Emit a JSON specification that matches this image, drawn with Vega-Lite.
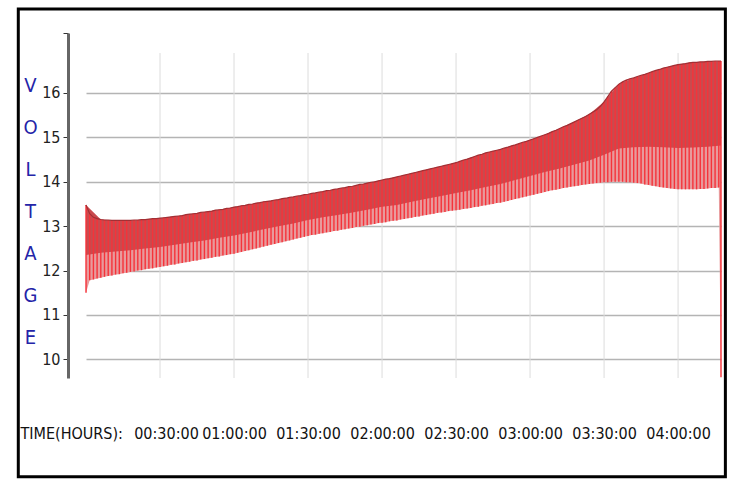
{
  "$schema": "https://vega.github.io/schema/vega-lite/v6.json",
  "width": 635,
  "height": 345,
  "autosize": {"type": "none"},
  "padding": {"left": 86, "top": 33, "right": 13, "bottom": 101},
  "background": "white",
  "config": {"view": {"stroke": null}},
  "datasets": {
    "cycles": [
      {"t":0,"hi":13.48,"lo":11.5},{"t":0.025,"hi":13.28,"lo":11.78},{"t":0.05,"hi":13.2,"lo":11.8},{"t":0.075,"hi":13.17,"lo":11.82},
      {"t":0.1,"hi":13.15,"lo":11.84},{"t":0.125,"hi":13.14,"lo":11.86},{"t":0.15,"hi":13.14,"lo":11.88},{"t":0.175,"hi":13.13,"lo":11.89},
      {"t":0.2,"hi":13.13,"lo":11.91},{"t":0.225,"hi":13.13,"lo":11.92},{"t":0.25,"hi":13.13,"lo":11.94},{"t":0.275,"hi":13.13,"lo":11.95},
      {"t":0.3,"hi":13.13,"lo":11.97},{"t":0.325,"hi":13.14,"lo":11.98},{"t":0.35,"hi":13.14,"lo":12.0},{"t":0.375,"hi":13.15,"lo":12.01},
      {"t":0.4,"hi":13.15,"lo":12.03},{"t":0.425,"hi":13.16,"lo":12.04},{"t":0.45,"hi":13.17,"lo":12.05},{"t":0.475,"hi":13.17,"lo":12.07},
      {"t":0.5,"hi":13.18,"lo":12.08},{"t":0.525,"hi":13.19,"lo":12.1},{"t":0.55,"hi":13.2,"lo":12.11},{"t":0.575,"hi":13.21,"lo":12.13},
      {"t":0.6,"hi":13.22,"lo":12.14},{"t":0.625,"hi":13.23,"lo":12.16},{"t":0.65,"hi":13.24,"lo":12.17},{"t":0.675,"hi":13.26,"lo":12.19},
      {"t":0.7,"hi":13.27,"lo":12.2},{"t":0.725,"hi":13.28,"lo":12.22},{"t":0.75,"hi":13.29,"lo":12.23},{"t":0.775,"hi":13.31,"lo":12.25},
      {"t":0.8,"hi":13.32,"lo":12.26},{"t":0.825,"hi":13.33,"lo":12.28},{"t":0.85,"hi":13.34,"lo":12.29},{"t":0.875,"hi":13.36,"lo":12.31},
      {"t":0.9,"hi":13.37,"lo":12.32},{"t":0.925,"hi":13.38,"lo":12.34},{"t":0.95,"hi":13.4,"lo":12.35},{"t":0.975,"hi":13.41,"lo":12.37},
      {"t":1.0,"hi":13.43,"lo":12.38},{"t":1.025,"hi":13.44,"lo":12.4},{"t":1.05,"hi":13.46,"lo":12.42},{"t":1.075,"hi":13.47,"lo":12.44},
      {"t":1.1,"hi":13.49,"lo":12.46},{"t":1.125,"hi":13.5,"lo":12.48},{"t":1.15,"hi":13.52,"lo":12.5},{"t":1.175,"hi":13.53,"lo":12.52},
      {"t":1.2,"hi":13.55,"lo":12.54},{"t":1.225,"hi":13.56,"lo":12.56},{"t":1.25,"hi":13.57,"lo":12.58},{"t":1.275,"hi":13.59,"lo":12.6},
      {"t":1.3,"hi":13.6,"lo":12.62},{"t":1.325,"hi":13.62,"lo":12.64},{"t":1.35,"hi":13.63,"lo":12.66},{"t":1.375,"hi":13.65,"lo":12.68},
      {"t":1.4,"hi":13.66,"lo":12.7},{"t":1.425,"hi":13.68,"lo":12.72},{"t":1.45,"hi":13.69,"lo":12.74},{"t":1.475,"hi":13.71,"lo":12.76},
      {"t":1.5,"hi":13.72,"lo":12.78},{"t":1.525,"hi":13.74,"lo":12.8},{"t":1.55,"hi":13.75,"lo":12.81},{"t":1.575,"hi":13.77,"lo":12.83},
      {"t":1.6,"hi":13.78,"lo":12.84},{"t":1.625,"hi":13.8,"lo":12.86},{"t":1.65,"hi":13.81,"lo":12.87},{"t":1.675,"hi":13.83,"lo":12.89},
      {"t":1.7,"hi":13.84,"lo":12.9},{"t":1.725,"hi":13.86,"lo":12.92},{"t":1.75,"hi":13.87,"lo":12.93},{"t":1.775,"hi":13.89,"lo":12.95},
      {"t":1.8,"hi":13.9,"lo":12.96},{"t":1.825,"hi":13.92,"lo":12.98},{"t":1.85,"hi":13.94,"lo":12.99},{"t":1.875,"hi":13.95,"lo":13.01},
      {"t":1.9,"hi":13.97,"lo":13.02},{"t":1.925,"hi":13.99,"lo":13.04},{"t":1.95,"hi":14.0,"lo":13.05},{"t":1.975,"hi":14.02,"lo":13.07},
      {"t":2.0,"hi":14.04,"lo":13.08},{"t":2.025,"hi":14.06,"lo":13.09},{"t":2.05,"hi":14.07,"lo":13.11},{"t":2.075,"hi":14.09,"lo":13.12},
      {"t":2.1,"hi":14.11,"lo":13.13},{"t":2.125,"hi":14.13,"lo":13.15},{"t":2.15,"hi":14.15,"lo":13.16},{"t":2.175,"hi":14.17,"lo":13.18},
      {"t":2.2,"hi":14.19,"lo":13.19},{"t":2.225,"hi":14.21,"lo":13.21},{"t":2.25,"hi":14.23,"lo":13.22},{"t":2.275,"hi":14.25,"lo":13.24},
      {"t":2.3,"hi":14.27,"lo":13.25},{"t":2.325,"hi":14.29,"lo":13.27},{"t":2.35,"hi":14.31,"lo":13.28},{"t":2.375,"hi":14.33,"lo":13.3},
      {"t":2.4,"hi":14.35,"lo":13.31},{"t":2.425,"hi":14.37,"lo":13.32},{"t":2.45,"hi":14.39,"lo":13.34},{"t":2.475,"hi":14.41,"lo":13.35},
      {"t":2.5,"hi":14.43,"lo":13.36},{"t":2.525,"hi":14.46,"lo":13.37},{"t":2.55,"hi":14.49,"lo":13.39},{"t":2.575,"hi":14.51,"lo":13.4},
      {"t":2.6,"hi":14.54,"lo":13.41},{"t":2.625,"hi":14.57,"lo":13.43},{"t":2.65,"hi":14.6,"lo":13.44},{"t":2.675,"hi":14.62,"lo":13.46},
      {"t":2.7,"hi":14.65,"lo":13.47},{"t":2.725,"hi":14.67,"lo":13.49},{"t":2.75,"hi":14.69,"lo":13.5},{"t":2.775,"hi":14.71,"lo":13.52},
      {"t":2.8,"hi":14.73,"lo":13.53},{"t":2.825,"hi":14.76,"lo":13.55},{"t":2.85,"hi":14.78,"lo":13.57},{"t":2.875,"hi":14.81,"lo":13.59},
      {"t":2.9,"hi":14.83,"lo":13.61},{"t":2.925,"hi":14.86,"lo":13.63},{"t":2.95,"hi":14.89,"lo":13.65},{"t":2.975,"hi":14.91,"lo":13.67},
      {"t":3.0,"hi":14.94,"lo":13.69},{"t":3.025,"hi":14.97,"lo":13.71},{"t":3.05,"hi":15.0,"lo":13.73},{"t":3.075,"hi":15.03,"lo":13.75},
      {"t":3.1,"hi":15.06,"lo":13.77},{"t":3.125,"hi":15.09,"lo":13.79},{"t":3.15,"hi":15.13,"lo":13.81},{"t":3.175,"hi":15.16,"lo":13.82},
      {"t":3.2,"hi":15.2,"lo":13.84},{"t":3.225,"hi":15.24,"lo":13.86},{"t":3.25,"hi":15.27,"lo":13.87},{"t":3.275,"hi":15.31,"lo":13.89},
      {"t":3.3,"hi":15.35,"lo":13.9},{"t":3.325,"hi":15.39,"lo":13.91},{"t":3.35,"hi":15.43,"lo":13.93},{"t":3.375,"hi":15.47,"lo":13.94},
      {"t":3.4,"hi":15.52,"lo":13.95},{"t":3.425,"hi":15.57,"lo":13.96},{"t":3.45,"hi":15.62,"lo":13.97},{"t":3.475,"hi":15.7,"lo":13.98},
      {"t":3.5,"hi":15.8,"lo":13.99},{"t":3.525,"hi":15.92,"lo":13.99},{"t":3.55,"hi":16.04,"lo":14.0},{"t":3.575,"hi":16.12,"lo":14.0},
      {"t":3.6,"hi":16.2,"lo":14.0},{"t":3.625,"hi":16.25,"lo":14.0},{"t":3.65,"hi":16.29,"lo":13.99},{"t":3.675,"hi":16.32,"lo":13.99},
      {"t":3.7,"hi":16.34,"lo":13.98},{"t":3.725,"hi":16.37,"lo":13.97},{"t":3.75,"hi":16.4,"lo":13.96},{"t":3.775,"hi":16.42,"lo":13.94},
      {"t":3.8,"hi":16.45,"lo":13.93},{"t":3.825,"hi":16.48,"lo":13.91},{"t":3.85,"hi":16.51,"lo":13.9},{"t":3.875,"hi":16.53,"lo":13.88},
      {"t":3.9,"hi":16.56,"lo":13.87},{"t":3.925,"hi":16.58,"lo":13.86},{"t":3.95,"hi":16.6,"lo":13.85},{"t":3.975,"hi":16.62,"lo":13.84},
      {"t":4.0,"hi":16.64,"lo":13.83},{"t":4.025,"hi":16.65,"lo":13.83},{"t":4.05,"hi":16.66,"lo":13.83},{"t":4.075,"hi":16.68,"lo":13.83},
      {"t":4.1,"hi":16.69,"lo":13.83},{"t":4.125,"hi":16.69,"lo":13.83},{"t":4.15,"hi":16.7,"lo":13.84},{"t":4.175,"hi":16.7,"lo":13.84},
      {"t":4.2,"hi":16.71,"lo":13.85},{"t":4.225,"hi":16.71,"lo":13.86},{"t":4.25,"hi":16.72,"lo":13.86},{"t":4.275,"hi":16.72,"lo":13.87},
      {"t":4.29,"hi":16.72,"lo":9.6}
    ],
    "band": [
      {"t":0,"hi":13.48,"mid":12.35},{"t":0.1,"hi":13.15,"mid":12.4},{"t":0.2,"hi":13.13,"mid":12.43},{"t":0.3,"hi":13.13,"mid":12.46},
      {"t":0.4,"hi":13.15,"mid":12.5},{"t":0.5,"hi":13.18,"mid":12.53},{"t":0.6,"hi":13.22,"mid":12.58},{"t":0.7,"hi":13.27,"mid":12.63},
      {"t":0.8,"hi":13.32,"mid":12.68},{"t":0.9,"hi":13.37,"mid":12.74},{"t":1.0,"hi":13.43,"mid":12.79},{"t":1.1,"hi":13.49,"mid":12.86},
      {"t":1.2,"hi":13.55,"mid":12.93},{"t":1.3,"hi":13.6,"mid":13.0},{"t":1.4,"hi":13.66,"mid":13.06},{"t":1.5,"hi":13.72,"mid":13.14},
      {"t":1.6,"hi":13.78,"mid":13.2},{"t":1.7,"hi":13.84,"mid":13.25},{"t":1.8,"hi":13.9,"mid":13.31},{"t":1.9,"hi":13.97,"mid":13.37},
      {"t":2.0,"hi":14.04,"mid":13.44},{"t":2.1,"hi":14.11,"mid":13.48},{"t":2.2,"hi":14.19,"mid":13.55},{"t":2.3,"hi":14.27,"mid":13.62},
      {"t":2.4,"hi":14.35,"mid":13.68},{"t":2.5,"hi":14.43,"mid":13.75},{"t":2.6,"hi":14.54,"mid":13.81},{"t":2.7,"hi":14.65,"mid":13.88},
      {"t":2.8,"hi":14.73,"mid":13.95},{"t":2.9,"hi":14.83,"mid":14.04},{"t":3.0,"hi":14.94,"mid":14.13},{"t":3.1,"hi":15.06,"mid":14.22},
      {"t":3.2,"hi":15.2,"mid":14.3},{"t":3.3,"hi":15.35,"mid":14.39},{"t":3.4,"hi":15.52,"mid":14.48},{"t":3.5,"hi":15.8,"mid":14.61},
      {"t":3.6,"hi":16.2,"mid":14.75},{"t":3.7,"hi":16.34,"mid":14.78},{"t":3.8,"hi":16.45,"mid":14.79},{"t":3.9,"hi":16.56,"mid":14.78},
      {"t":4.0,"hi":16.64,"mid":14.76},{"t":4.1,"hi":16.69,"mid":14.77},{"t":4.2,"hi":16.71,"mid":14.79},{"t":4.29,"hi":16.72,"mid":14.82}
    ],
    "grid": [{"t":0.5},{"t":1.0},{"t":1.5},{"t":2.0},{"t":2.5},{"t":3.0},{"t":3.5},{"t":4.0}]
  },
  "layer": [
    {
      "data": {"name": "grid"},
      "mark": {"type": "rule", "color": "#dcdcdc", "strokeWidth": 1},
      "encoding": {
        "x": {
          "field": "t", "type": "quantitative",
          "scale": {"domain": [0, 4.29], "nice": false, "zero": false},
          "axis": {
            "values": [0.5, 1, 1.5, 2, 2.5, 3, 3.5, 4],
            "labelExpr": "['00:30:00','01:00:00','01:30:00','02:00:00','02:30:00','03:00:00','03:30:00','04:00:00'][round(datum.value*2)-1]",
            "grid": false, "ticks": false, "domain": false,
            "labelFont": "DejaVu Sans Condensed", "labelFontSize": 16, "labelColor": "#111",
            "labelBaseline": "alphabetic", "labelPadding": 60, "labelOverlap": false, "labelFlush": false,
            "labelOffset": {"condition": {"test": "datum.value == 0.5", "value": 6}, "value": 0},
            "title": "TIME(HOURS):",
            "titleFont": "DejaVu Sans Condensed", "titleFontSize": 16, "titleFontWeight": "normal", "titleColor": "#111",
            "titleAnchor": "start", "titleAlign": "left", "titleBaseline": "alphabetic",
            "titleX": -66, "titleY": 60
          }
        },
        "y": {
          "datum": 9.581, "type": "quantitative",
          "scale": {"domain": [9.581, 17.351], "nice": false, "zero": false},
          "axis": {
            "values": [10, 11, 12, 13, 14, 15, 16, 17.351],
            "labelExpr": "datum.value > 17 ? '' : datum.label",
            "offset": 18,
            "domainColor": "#666", "domainWidth": 3,
            "tickColor": "#333", "tickSize": 5,
            "grid": true, "gridColor": "#b4b4b4", "gridWidth": 1.5,
            "gridOpacity": {"condition": {"test": "datum.value > 17", "value": 0}, "value": 1},
            "labelFont": "DejaVu Sans Condensed", "labelFontSize": 16, "labelColor": "#222", "labelPadding": 3,
            "title": ["V", "O", "L", "T", "A", "G", "E"],
            "titleAngle": 0, "titleColor": "#2424a8", "titleFont": "DejaVu Sans Condensed",
            "titleFontSize": 20, "titleFontWeight": "normal", "titleLineHeight": 42,
            "titleAlign": "center", "titleBaseline": "top", "titleAnchor": "start",
            "titleX": -38, "titleY": 42
          }
        },
        "y2": {"datum": 16.9}
      }
    },
    {
      "data": {"name": "cycles"},
      "mark": {"type": "area", "color": "#e89a9c", "opacity": 1},
      "encoding": {
        "x": {"field": "t", "type": "quantitative"},
        "y": {"field": "lo", "type": "quantitative"},
        "y2": {"field": "hi"}
      }
    },
    {
      "data": {"name": "band"},
      "mark": {"type": "area", "color": "#c94a4e"},
      "encoding": {
        "x": {"field": "t", "type": "quantitative"},
        "y": {"field": "mid", "type": "quantitative"},
        "y2": {"field": "hi"}
      }
    },
    {
      "data": {"name": "cycles"},
      "mark": {"type": "rule", "color": "#f5333a", "strokeWidth": 1.4},
      "encoding": {
        "x": {"field": "t", "type": "quantitative"},
        "y": {"field": "lo", "type": "quantitative"},
        "y2": {"field": "hi"}
      }
    },
    {
      "data": {"name": "cycles"},
      "mark": {"type": "line", "color": "#a32f34", "strokeWidth": 1.2},
      "encoding": {
        "x": {"field": "t", "type": "quantitative"},
        "y": {"field": "hi", "type": "quantitative"}
      }
    },
    {
      "data": {"values": [{}]},
      "mark": {"type": "rect", "fill": null, "stroke": "#000", "strokeWidth": 3, "clip": false},
      "encoding": {
        "x": {"datum": -0.4574, "type": "quantitative"},
        "x2": {"datum": 4.3196},
        "y": {"datum": 17.892, "type": "quantitative"},
        "y2": {"datum": 7.358}
      }
    }
  ]
}
